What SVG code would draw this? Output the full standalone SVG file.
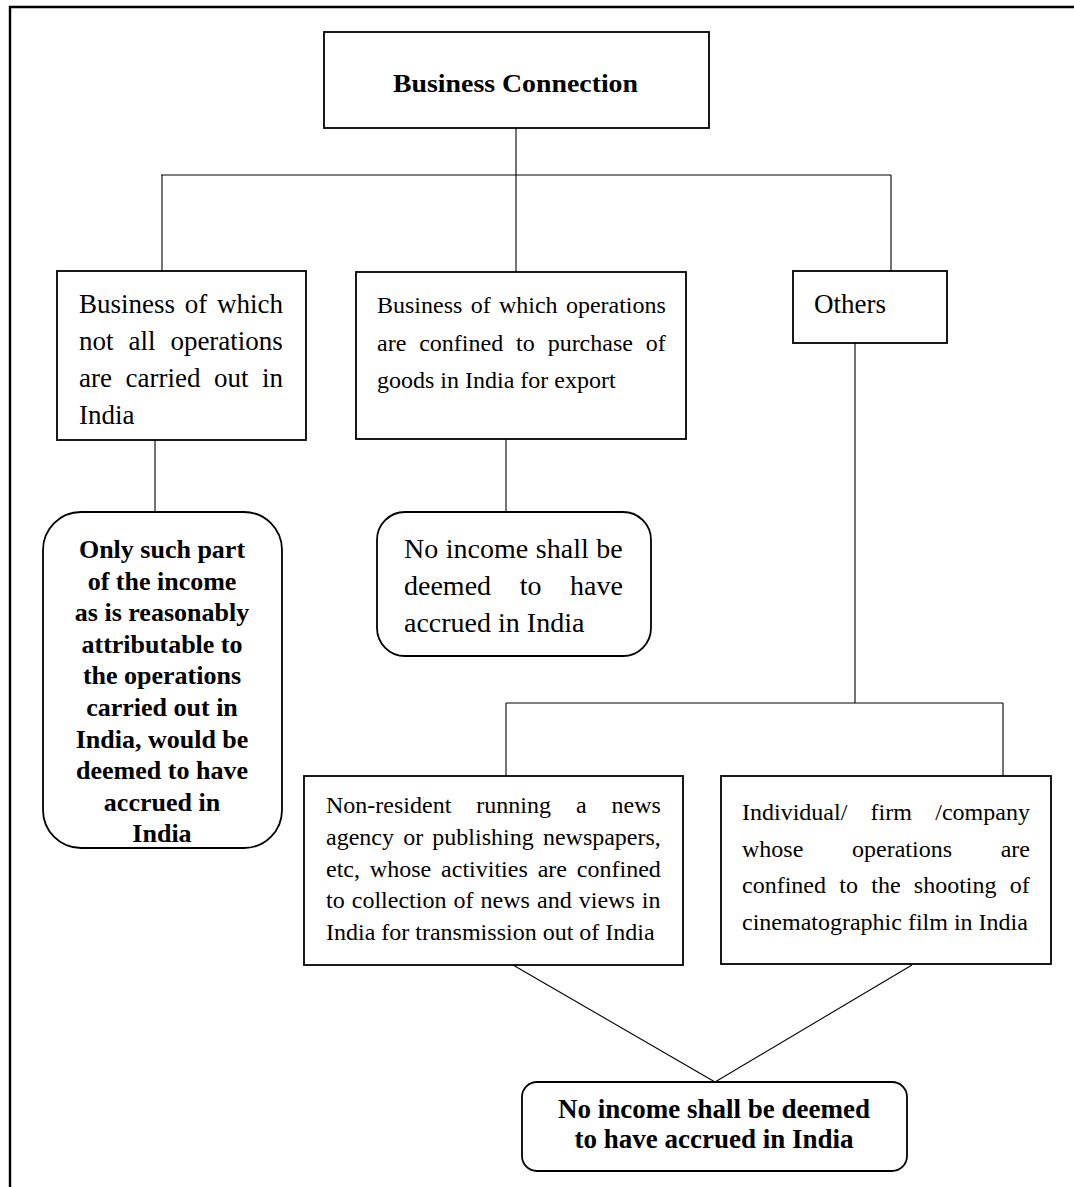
<svg xmlns="http://www.w3.org/2000/svg" width="1074" height="1187" viewBox="0 0 1074 1187">
<style>
.bg{fill:#fff}
.frame{stroke:#000;stroke-width:2.4;fill:none}
.box{fill:#fff;stroke:#000;stroke-width:1.8}
.conn line{stroke:#000;stroke-width:1.1}
.t{font-family:"Liberation Serif","Times New Roman",serif;fill:#000}
.b{font-family:"Liberation Serif","Times New Roman",serif;font-weight:bold;fill:#000}
.f27{font-size:27px}
.f24{font-size:24px}
.f28{font-size:28px}
.fb{font-size:26px;text-anchor:middle}
.fb2{font-size:27px;text-anchor:middle}
</style>
<rect class="bg" x="0" y="0" width="1074" height="1187"/>
<path class="frame" d="M10,1187 V7 H1074"/>
<g id="connectors" class="conn">
<line x1="516" y1="128" x2="516" y2="175"/>
<line x1="161" y1="175" x2="891" y2="175"/>
<line x1="162" y1="175" x2="162" y2="271"/>
<line x1="516" y1="175" x2="516" y2="272"/>
<line x1="891" y1="175" x2="891" y2="271"/>
<line x1="155" y1="440" x2="155" y2="512"/>
<line x1="506" y1="439" x2="506" y2="512"/>
<line x1="855" y1="343" x2="855" y2="703"/>
<line x1="506" y1="703" x2="1003" y2="703"/>
<line x1="506" y1="703" x2="506" y2="776"/>
<line x1="1003" y1="703" x2="1003" y2="776"/>
<line x1="513" y1="965" x2="715" y2="1082"/>
<line x1="912" y1="965" x2="715" y2="1082"/>
</g>
<g id="business-connection">
<rect class="box" x="324" y="32" width="385" height="96"/>
<text class="b" x="393" y="92" font-size="26" textLength="245" lengthAdjust="spacingAndGlyphs">Business Connection</text>
</g>
<g id="not-all-operations">
<rect class="box" x="57" y="271" width="249" height="169"/>
<text class="t f27" x="79" y="313" word-spacing="3">Business of which</text>
<text class="t f27" x="79" y="350" word-spacing="8.2">not all operations</text>
<text class="t f27" x="79" y="387" word-spacing="6.8">are carried out in</text>
<text class="t f27" x="79" y="424">India</text>
</g>
<g id="purchase-for-export">
<rect class="box" x="356" y="272" width="330" height="167"/>
<text class="t f24" x="377" y="313" word-spacing="2.3">Business of which operations</text>
<text class="t f24" x="377" y="351" word-spacing="6.9">are confined to purchase of</text>
<text class="t f24" x="377" y="388">goods in India for export</text>
</g>
<g id="others">
<rect class="box" x="793" y="271" width="154" height="72"/>
<text class="t f27" x="814" y="313">Others</text>
</g>
<g id="part-of-income">
<rect class="box" x="43" y="512" width="239" height="336" rx="38" ry="38"/>
<text class="b fb" x="162" y="558">Only such part</text>
<text class="b fb" x="162" y="590">of the income</text>
<text class="b fb" x="162" y="621">as is reasonably</text>
<text class="b fb" x="162" y="653">attributable to</text>
<text class="b fb" x="162" y="684">the operations</text>
<text class="b fb" x="162" y="716">carried out in</text>
<text class="b fb" x="162" y="748">India, would be</text>
<text class="b fb" x="162" y="779">deemed to have</text>
<text class="b fb" x="162" y="811">accrued in</text>
<text class="b fb" x="162" y="842">India</text>
</g>
<g id="no-income-1">
<rect class="box" x="377" y="512" width="274" height="144" rx="28" ry="28"/>
<text class="t f28" x="404" y="558" word-spacing="0.6">No income shall be</text>
<text class="t f28" x="404" y="595" word-spacing="21.6">deemed to have</text>
<text class="t f28" x="404" y="632">accrued in India</text>
</g>
<g id="news-agency">
<rect class="box" x="304" y="776" width="379" height="189"/>
<text class="t f24" x="326" y="813" word-spacing="19">Non-resident running a news</text>
<text class="t f24" x="326" y="845" word-spacing="3.2">agency or publishing newspapers,</text>
<text class="t f24" x="326" y="877" word-spacing="3.9">etc, whose activities are confined</text>
<text class="t f24" x="326" y="908" word-spacing="1.1">to collection of news and views in</text>
<text class="t f24" x="326" y="940">India for transmission out of India</text>
</g>
<g id="film-shooting">
<rect class="box" x="721" y="776" width="330" height="188"/>
<text class="t f24" x="742" y="820" word-spacing="17.3">Individual/ firm /company</text>
<text class="t f24" x="742" y="857" word-spacing="42.7">whose operations are</text>
<text class="t f24" x="742" y="893" word-spacing="7.3">confined to the shooting of</text>
<text class="t f24" x="742" y="930">cinematographic film in India</text>
</g>
<g id="no-income-2">
<rect class="box" x="522" y="1082" width="385" height="89" rx="15" ry="15"/>
<text class="b fb2" x="714" y="1118">No income shall be deemed</text>
<text class="b fb2" x="714" y="1148">to have accrued in India</text>
</g>
</svg>
